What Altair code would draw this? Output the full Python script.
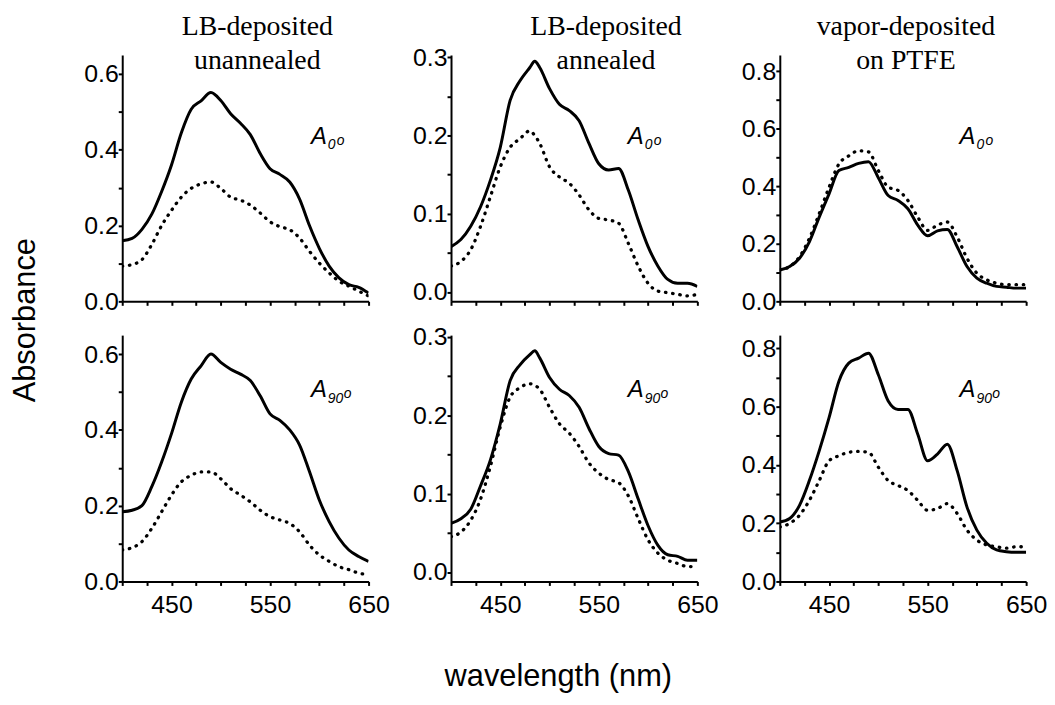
import altair as alt
import pandas as pd

# ---------------- data ----------------
WL = [400, 410, 420, 430, 440, 450, 460, 470, 480, 490, 500, 510, 520,
      530, 540, 550, 560, 570, 580, 590, 600, 610, 620, 630, 640, 650]
WL_B = [400, 410, 420, 430, 440, 450, 460, 470, 480, 485, 490, 500, 510, 520,
        530, 540, 550, 560, 570, 580, 590, 600, 610, 620, 630, 640, 650]

# LB-deposited, unannealed
p1_a0_solid = [0.160, 0.166, 0.190, 0.230, 0.290, 0.360, 0.445, 0.507, 0.529, 0.551,
               0.530, 0.495, 0.470, 0.440, 0.390, 0.350, 0.335, 0.315, 0.270, 0.200,
               0.140, 0.093, 0.062, 0.044, 0.037, 0.022]
p1_a0_dot = [0.093, 0.097, 0.110, 0.150, 0.200, 0.240, 0.275, 0.298, 0.310, 0.315,
             0.298, 0.275, 0.267, 0.254, 0.233, 0.210, 0.197, 0.189, 0.167, 0.132,
             0.101, 0.075, 0.053, 0.040, 0.027, 0.014]
p1_a90_solid = [0.184, 0.188, 0.200, 0.250, 0.315, 0.390, 0.473, 0.534, 0.569, 0.600,
                0.578, 0.560, 0.547, 0.530, 0.490, 0.442, 0.425, 0.400, 0.360, 0.290,
                0.215, 0.158, 0.114, 0.083, 0.066, 0.053]
p1_a90_dot = [0.083, 0.089, 0.105, 0.140, 0.184, 0.228, 0.263, 0.280, 0.289, 0.289,
              0.271, 0.245, 0.228, 0.210, 0.188, 0.171, 0.162, 0.153, 0.131, 0.096,
              0.070, 0.053, 0.039, 0.031, 0.022, 0.018]

# LB-deposited, annealed (uses WL_B)
p2_a0_solid = [0.058, 0.067, 0.084, 0.109, 0.143, 0.185, 0.245, 0.270, 0.287, 0.295,
               0.287, 0.260, 0.240, 0.232, 0.219, 0.190, 0.164, 0.156, 0.158, 0.130,
               0.092, 0.058, 0.033, 0.016, 0.011, 0.011, 0.007]
p2_a0_dot = [0.033, 0.039, 0.054, 0.084, 0.122, 0.160, 0.185, 0.196, 0.206, 0.200,
             0.190, 0.160, 0.147, 0.139, 0.124, 0.105, 0.094, 0.092, 0.088, 0.062,
             0.033, 0.011, 0.001, -0.001, -0.003, -0.005, -0.003]
p2_a90_solid = [0.062, 0.068, 0.080, 0.110, 0.143, 0.189, 0.244, 0.264, 0.277, 0.282,
                0.273, 0.248, 0.233, 0.225, 0.210, 0.183, 0.160, 0.151, 0.149, 0.128,
                0.093, 0.059, 0.034, 0.022, 0.020, 0.015, 0.015]
p2_a90_dot = [0.045, 0.051, 0.066, 0.093, 0.135, 0.185, 0.223, 0.235, 0.240, 0.238,
              0.233, 0.210, 0.189, 0.177, 0.160, 0.139, 0.126, 0.118, 0.114, 0.097,
              0.068, 0.041, 0.024, 0.015, 0.011, 0.007, 0.007]

# vapor-deposited on PTFE
p3_a0_solid = [0.109, 0.121, 0.150, 0.207, 0.293, 0.374, 0.455, 0.466, 0.480, 0.486,
               0.430, 0.368, 0.351, 0.322, 0.265, 0.228, 0.245, 0.250, 0.190, 0.121,
               0.081, 0.063, 0.052, 0.049, 0.046, 0.046]
p3_a0_dot = [0.109, 0.121, 0.155, 0.219, 0.305, 0.397, 0.478, 0.506, 0.524, 0.520,
             0.455, 0.397, 0.386, 0.351, 0.293, 0.247, 0.265, 0.276, 0.224, 0.150,
             0.098, 0.075, 0.063, 0.058, 0.058, 0.058]
p3_a90_solid = [0.204, 0.216, 0.261, 0.346, 0.448, 0.562, 0.687, 0.749, 0.766, 0.783,
                0.709, 0.619, 0.590, 0.590, 0.505, 0.414, 0.437, 0.471, 0.380, 0.255,
                0.176, 0.131, 0.108, 0.102, 0.100, 0.100]
p3_a90_dot = [0.187, 0.199, 0.227, 0.278, 0.346, 0.414, 0.431, 0.443, 0.446, 0.443,
              0.392, 0.346, 0.329, 0.312, 0.278, 0.244, 0.250, 0.267, 0.233, 0.176,
              0.142, 0.125, 0.119, 0.114, 0.119, 0.119]

TITLES = [("LB-deposited", "unannealed"), ("LB-deposited", "annealed"),
          ("vapor-deposited", "on PTFE")]
SUBS = ["0", "90"]
X_TICKS = [400, 425, 450, 475, 500, 525, 550, 575, 600, 625, 650]
X_LABELS = [450, 550, 650]

# ---------------- styling ----------------
W, H = 248, 248
SANS = "Liberation Sans"
SERIF = "Liberation Serif"
ONE = alt.Data(values=[{"k": 1}])


def txt(s, x, y, size, font=SANS, italic=False, align="left",
        baseline="alphabetic", angle=0):
    return alt.Chart(ONE).mark_text(
        text=s, font=font, fontSize=size, align=align, baseline=baseline,
        angle=angle, color="black",
        fontStyle="italic" if italic else "normal",
    ).encode(x=alt.value(x), y=alt.value(y))


def panel(wl, solid, dot, ydom, ystep, ylabel_step, bottom, col):
    n = int(round(ydom[1] / ystep))
    yvals = [round(i * ystep, 4) for i in range(0, n + 1)]
    lab_expr = (f"abs(datum.value/{ylabel_step} - round(datum.value/{ylabel_step})) < 0.01"
                " ? format(datum.value, '.1f') : ''")
    if bottom:
        xaxis = alt.Axis(values=X_TICKS, title=None, grid=False, labelOverlap=False,
                         labelFlush=False, labelPadding=7,
                         labelExpr="indexof([450,550,650], datum.value) >= 0 ? datum.value : ''")
    else:
        xaxis = alt.Axis(values=X_TICKS, title=None, grid=False, labels=False)
    yaxis = alt.Axis(values=yvals, title=None, grid=False, labelOverlap=False,
                     labelFlush=False, labelExpr=lab_expr, labelPadding=0)
    xs = alt.Scale(domain=[400, 650], nice=False, zero=False)
    ys = alt.Scale(domain=ydom, nice=False, zero=False)

    df_s = pd.DataFrame({"wl": wl, "v": solid})
    df_d = pd.DataFrame({"wl": wl, "v": dot})
    dotted = alt.Chart(df_d).mark_line(
        color="black", strokeWidth=3.3, strokeDash=[0.5, 6.8], strokeCap="round",
        interpolate="monotone", clip=True,
    ).encode(x=alt.X("wl:Q", scale=xs, axis=xaxis), y=alt.Y("v:Q", scale=ys, axis=yaxis))
    solid_l = alt.Chart(df_s).mark_line(
        color="black", strokeWidth=3, interpolate="monotone", clip=True,
    ).encode(x=alt.X("wl:Q", scale=xs, axis=xaxis), y=alt.Y("v:Q", scale=ys, axis=yaxis))

    ax = [190, 178, 181][col]
    layers = [dotted, solid_l]
    if bottom:
        sub = SUBS[1]
        base_a, base_s, base_o = 62, 68, 63
        o_dx = 33
    else:
        sub = SUBS[0]
        base_a, base_s, base_o = 90, 95, 91
        o_dx = 26
    layers += [
        txt("A", ax, base_a, 24, italic=True),
        txt(sub, ax + 17, base_s, 14, italic=True),
        txt("o", ax + o_dx, base_o, 14, italic=True),
    ]
    if not bottom:
        cx = [136, 156, 127][col]
        layers += [
            txt(TITLES[col][0], cx, -20, 28, font=SERIF, align="center"),
            txt(TITLES[col][1], cx, 14, 28, font=SERIF, align="center"),
        ]
        if col == 0:
            layers.append(txt("Absorbance", -97, 267, 31, align="center",
                              baseline="middle", angle=270))
    if bottom and col == 1:
        layers.append(txt("wavelength (nm)", 108, 353, 31, align="center"))
    return alt.layer(*layers).properties(width=W, height=H)


panels = [
    panel(WL, p1_a0_solid, p1_a0_dot, [0, 0.65], 0.1, 0.2, False, 0),
    panel(WL_B, p2_a0_solid, p2_a0_dot, [-0.012, 0.303], 0.05, 0.1, False, 1),
    panel(WL, p3_a0_solid, p3_a0_dot, [0, 0.857], 0.1, 0.2, False, 2),
    panel(WL, p1_a90_solid, p1_a90_dot, [0, 0.65], 0.1, 0.2, True, 0),
    panel(WL_B, p2_a90_solid, p2_a90_dot, [-0.012, 0.302], 0.05, 0.1, True, 1),
    panel(WL, p3_a90_solid, p3_a90_dot, [0, 0.845], 0.1, 0.2, True, 2),
]

chart = alt.concat(
    *panels, columns=3, bounds="flush",
    spacing=alt.RowColnumber(row=34, column=83),
).properties(
    background="white",
    padding={"left": 2, "top": 3, "right": 0, "bottom": 2},
).configure_view(
    stroke=None
).configure_axis(
    domainColor="black", domainWidth=2, tickColor="black", tickWidth=2,
    tickSize=4, labelColor="black", labelFont=SANS, labelFontSize=25,
)

chart.save("out.html", embed_options={"renderer": "svg", "actions": False})
